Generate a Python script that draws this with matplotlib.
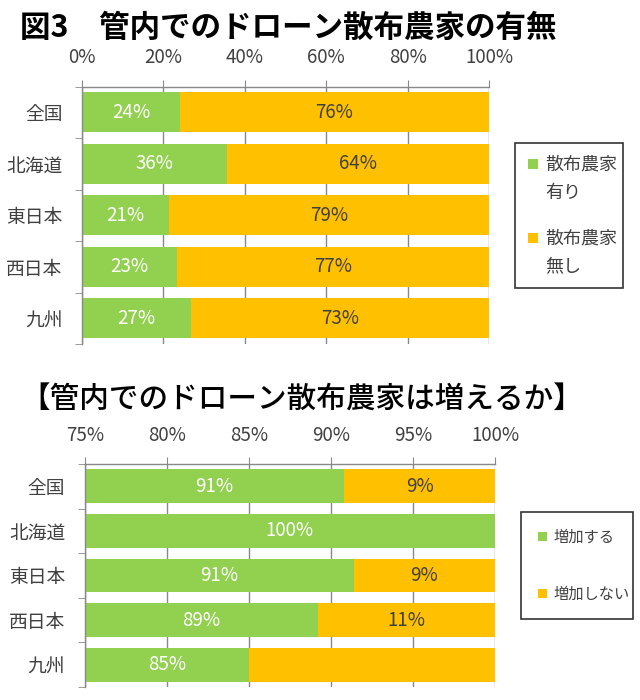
import matplotlib
matplotlib.use('Agg')
import matplotlib.pyplot as plt
import numpy as np
from matplotlib.patches import Patch, Rectangle
from matplotlib.legend_handler import HandlerPatch

plt.rcParams['font.family'] = ['Noto Sans CJK JP', 'DejaVu Sans']

# data
regions = ['全国', '北海道', '東日本', '西日本', '九州']
spray_yes = [24.1, 35.6, 21.4, 23.3, 26.8]
spray_no = [75.9, 64.4, 78.6, 76.7, 73.2]
increase = [90.8, 100.0, 91.4, 89.2, 85.0]
no_increase = [9.2, 0.0, 8.6, 10.8, 15.0]
show_no_increase = [True, False, True, True, False]

top_title = '図3\u3000管内でのドローン散布農家の有無'
bottom_title = '【管内でのドローン散布農家は増えるか】'
top_legend = ['散布農家\n有り', '散布農家\n無し']
bottom_legend = ['増加する', '増加しない']

green = '#92D050'
orange = '#FFC000'
gray = '#898989'
text_color = '#404040'


class FirstLineSquare(HandlerPatch):
    # small square lined up with the first line of a two-line label
    def __init__(self, size, lift):
        super().__init__()
        self.size = size
        self.lift = lift

    def create_artists(self, legend, orig_handle, xdescent, ydescent,
                       width, height, fontsize, trans):
        s = self.size
        y = -ydescent + height / 2 - s / 2 + self.lift
        p = Rectangle((-xdescent, y), s, s, facecolor=orig_handle.get_facecolor(),
                      edgecolor='none', transform=trans)
        return [p]


def draw_panel(ax, first, second, show_second, xmin, step, height):
    y = np.arange(len(regions))
    ax.barh(y, first, height=height, color=green, zorder=2)
    ax.barh(y, second, left=first, height=height, color=orange, zorder=2)
    ax.set_xlim(xmin, 100)
    ax.set_ylim(len(regions) - 0.5, -0.5)

    for i in range(len(regions)):
        a = first[i]
        b = second[i]
        if a > xmin:
            cx = (max(0, xmin) + a) / 2
            ax.text(cx, i, f'{round(a)}%', ha='center', va='center',
                    color='white', fontsize=13.5, zorder=3)
        if b > 0 and show_second[i]:
            cx = (max(a, xmin) + a + b) / 2
            ax.text(cx, i, f'{round(b)}%', ha='center', va='center',
                    color=text_color, fontsize=13.5, zorder=3)

    ticks = np.arange(xmin, 100 + step / 2, step)
    ax.set_xticks(ticks)
    ax.set_xticklabels([f'{int(t)}%' for t in ticks])
    ax.xaxis.tick_top()
    ax.tick_params(axis='x', length=5, color=gray, pad=8, labelsize=13.5,
                   labelcolor=text_color)
    ax.set_yticks(y)
    ax.set_yticklabels(regions)
    ax.set_yticks(np.arange(-0.5, len(regions), 1), minor=True)
    ax.tick_params(axis='y', which='major', length=0, pad=14, labelsize=13.5,
                   labelcolor=text_color)
    ax.tick_params(axis='y', which='minor', length=5, color=gray)
    ax.grid(axis='x', color=gray, linewidth=1)
    ax.set_axisbelow(True)
    for side in ['right', 'bottom']:
        ax.spines[side].set_visible(False)
    for side in ['top', 'left']:
        ax.spines[side].set_color(gray)
        ax.spines[side].set_linewidth(1)


fig = plt.figure(figsize=(6.4, 7.0), dpi=100)

ax1 = fig.add_axes([82 / 640, 1 - 344 / 700, 407 / 640, 257.5 / 700])
draw_panel(ax1, spray_yes, spray_no, [True] * 5, 0, 20, 0.786)

ax2 = fig.add_axes([84.7 / 640, 13 / 700, 410.3 / 640, 223 / 700])
draw_panel(ax2, increase, no_increase, show_no_increase, 75, 5, 0.76)

fig.text(20 / 640, 1 - 28 / 700, top_title, fontsize=22, fontweight='bold',
         va='center', ha='left', color='black')
fig.text(20 / 640, 1 - 400 / 700, bottom_title, fontsize=21.3, fontweight='medium',
         va='center', ha='left', color='black')

# legends
h_top = [Patch(color=green), Patch(color=orange)]
leg1 = fig.legend(h_top, top_legend, loc='upper left',
                  bbox_to_anchor=(515 / 640, 1 - 287 / 700, 108 / 640, 144 / 700),
                  mode='expand', borderaxespad=0, fontsize=13, frameon=True,
                  fancybox=False, edgecolor='black', borderpad=0.7,
                  handlelength=0.6, handleheight=0.7, handletextpad=0.4,
                  labelspacing=1.5, labelcolor=text_color,
                  handler_map={Patch: FirstLineSquare(7.2, 11)})
leg1.get_frame().set_linewidth(1.2)
for t in leg1.get_texts():
    t.set_linespacing(1.75)

h_bot = [Patch(color=green), Patch(color=orange)]
leg2 = fig.legend(h_bot, bottom_legend, loc='upper left',
                  bbox_to_anchor=(521 / 640, 1 - 617 / 700, 112 / 640, 105 / 700),
                  mode='expand', borderaxespad=0, fontsize=11, frameon=True,
                  fancybox=False, edgecolor='black', borderpad=1.1,
                  handlelength=0.6, handleheight=0.7, handletextpad=0.4,
                  labelspacing=2.6, labelcolor=text_color,
                  handler_map={Patch: FirstLineSquare(6.5, 0)})
leg2.get_frame().set_linewidth(1.2)

fig.savefig('out.png', dpi=100)
